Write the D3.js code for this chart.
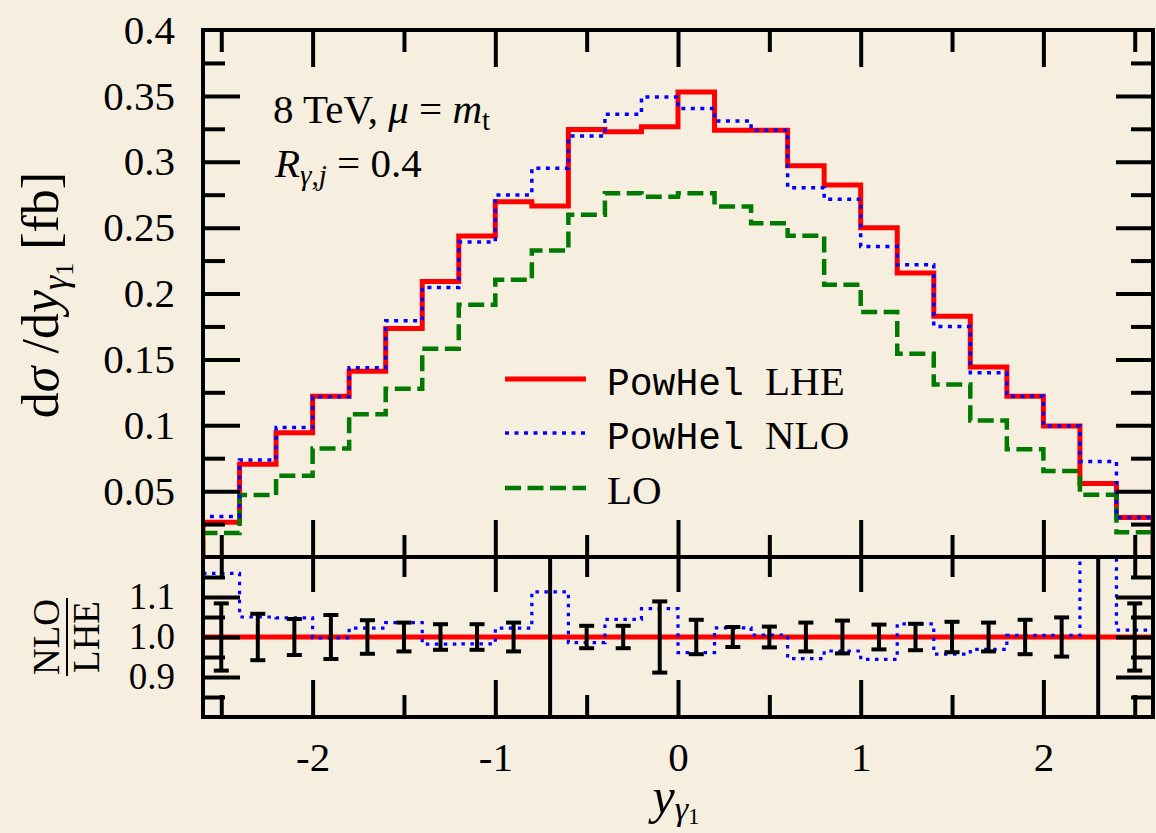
<!DOCTYPE html>
<html><head><meta charset="utf-8">
<script src="https://cdn.jsdelivr.net/npm/d3@7"></script>
<style>
html,body{margin:0;padding:0;background:#f6efe0;}
svg{display:block;}
</style></head><body>
<svg id="c" width="1156" height="833"></svg>
<script>
// ---------------- data ----------------
const binEdges = [-2.6,-2.4,-2.2,-2.0,-1.8,-1.6,-1.4,-1.2,-1.0,-0.8,-0.6,-0.4,-0.2,0.0,
                  0.2,0.4,0.6,0.8,1.0,1.2,1.4,1.6,1.8,2.0,2.2,2.4,2.6];
const binCenters = [-2.5,-2.3,-2.1,-1.9,-1.7,-1.5,-1.3,-1.1,-0.9,-0.7,-0.5,-0.3,-0.1,
                    0.1,0.3,0.5,0.7,0.9,1.1,1.3,1.5,1.7,1.9,2.1,2.3,2.5];
const lheValues = [0.0263,0.0704,0.0944,0.1221,0.141,0.1734,0.2092,0.2437,0.2697,0.2665,0.3245,0.3228,0.3265,
                   0.353,0.324,0.324,0.297,0.2824,0.250,0.2155,0.1827,0.1443,0.1221,0.0994,0.0558,0.030];
const nloValues = [0.0308,0.0737,0.0982,0.1217,0.1436,0.1794,0.2046,0.239,0.2748,0.295,0.3195,0.336,0.3492,
                   0.3404,0.331,0.324,0.2803,0.2716,0.2357,0.2218,0.175,0.1398,0.122,0.0994,0.0724,0.030];
const loValues  = [0.0182,0.047,0.0616,0.0823,0.1083,0.1277,0.158,0.1915,0.2104,0.2326,0.2597,0.2761,0.2735,
                   0.2761,0.266,0.2534,0.2438,0.2067,0.186,0.1542,0.131,0.1037,0.0818,0.0653,0.0472,0.0187];
const ratioValues = [1.159,1.05,1.048,0.998,1.022,1.036,0.982,0.983,1.022,1.113,0.986,1.044,1.071,
                     0.961,1.023,1.005,0.946,0.965,0.944,1.033,0.957,0.969,1.004,1.004,1.30,1.017];
const ratioErrors = [0.084,0.058,0.045,0.055,0.042,0.036,0.032,0.032,0.036,0.5,0.028,0.028,0.089,
                     0.043,0.025,0.026,0.036,0.041,0.031,0.033,0.038,0.036,0.043,0.049,0.5,0.084];
const xMajorTicks = [-2,-1,0,1,2];
const xMajorLabels = ["-2","-1","0","1","2"];
const xMinorTicks = [-2.5,-1.5,-0.5,0.5,1.5,2.5];
const yMajorTicks = [0.05,0.1,0.15,0.2,0.25,0.3,0.35,0.4];
const yMajorLabels = ["0.05","0.1","0.15","0.2","0.25","0.3","0.35","0.4"];
const yMinorTicks = [0.025,0.075,0.125,0.175,0.225,0.275,0.325,0.375];
const rMajorTicks = [0.9,1.0,1.1];
const rMajorLabels = ["0.9","1.0","1.1"];
const rMinorTicks = [0.85,0.95,1.05,1.15];
const legendEntries = [
  {mono:"PowHel", label:"LHE", color:"#ff0000", dash:null, width:5},
  {mono:"PowHel", label:"NLO", color:"#0000ff", dash:"4,5.5", width:3.5},
  {mono:"", label:"LO", color:"#007a00", dash:"16,6.5", width:4.5}
];

// ---------------- font detection ----------------
function detectFont(cands, fallback){
  const ctx = document.createElement("canvas").getContext("2d");
  const s = "mmmmmmmmmmlliiWWwwQq0123456789.35";
  for (const f of cands){
    for (const base of ["monospace","sans-serif","serif"]){
      ctx.font = "40px " + base; const w0 = ctx.measureText(s).width;
      ctx.font = '40px "' + f + '", ' + base; const w1 = ctx.measureText(s).width;
      if (Math.abs(w0-w1) > 0.5) return f;
    }
  }
  return fallback;
}
const serifFont = detectFont(["Liberation Serif","DejaVu Serif","Noto Serif","Tinos","Times New Roman"], "serif");
const monoFont = detectFont(["Liberation Mono","DejaVu Sans Mono","Noto Sans Mono","Cousine","Courier New"], "monospace");
const SERIF = '"' + serifFont + '", serif';
const MONO = '"' + monoFont + '", monospace';

// ---------------- layout ----------------
const xL=203, xR=1153, yTop=30, yMid=557, yBot=717;
const svg = d3.select("#c").style("font-family", SERIF);
svg.append("rect").attr("width",1156).attr("height",833).attr("fill","#f6efe0");

const x = d3.scaleLinear().domain([-2.6,2.6]).range([xL,xR]);
const y = d3.scaleLinear().domain([0,0.4]).range([yMid,yTop]);
const yr = d3.scaleLinear().domain([0.8,1.2]).range([yBot,yMid]);

const defs = svg.append("defs");
defs.append("clipPath").attr("id","clipMain").append("rect")
  .attr("x",xL).attr("y",yTop).attr("width",xR-xL).attr("height",yMid-yTop);
defs.append("clipPath").attr("id","clipRat").append("rect")
  .attr("x",xL).attr("y",yMid).attr("width",xR-xL).attr("height",yBot-yMid);

// ---------------- histograms ----------------
function histPts(vals){
  const pts=[[binEdges[0],0]];
  vals.forEach((v,i)=>pts.push([binEdges[i],v]));
  pts.push([binEdges[binEdges.length-1],vals[vals.length-1]]);
  pts.push([binEdges[binEdges.length-1],0]);
  return pts;
}
const lineMain = d3.line().x(d=>x(d[0])).y(d=>y(d[1])).curve(d3.curveStepAfter);
const gMain = svg.append("g").attr("clip-path","url(#clipMain)");
const series = [
  {vals:lheValues, e:legendEntries[0]},
  {vals:loValues,  e:legendEntries[2]},
  {vals:nloValues, e:legendEntries[1]}
];
series.forEach(s=>{
  gMain.append("path").attr("d",lineMain(histPts(s.vals)))
    .attr("fill","none").attr("stroke",s.e.color).attr("stroke-width",s.e.width)
    .attr("stroke-dasharray",s.e.dash).attr("stroke-linejoin","miter");
});

// ---------------- ratio panel ----------------
const gRat = svg.append("g").attr("clip-path","url(#clipRat)");
gRat.append("line").attr("x1",xL).attr("x2",xR).attr("y1",yr(1)).attr("y2",yr(1))
  .attr("stroke","#ff0000").attr("stroke-width",5);
const ratPts = ratioValues.map((v,i)=>[binEdges[i],v]);
ratPts.push([binEdges[binEdges.length-1],ratioValues[ratioValues.length-1]]);
const lineRat = d3.line().x(d=>x(d[0])).y(d=>yr(d[1])).curve(d3.curveStepAfter);
gRat.append("path").attr("d",lineRat(ratPts)).attr("fill","none")
  .attr("stroke","#0000ff").attr("stroke-width",3.2).attr("stroke-dasharray","3.5,5.5");
const eb = gRat.selectAll("g.eb").data(binCenters.map((c,i)=>({c,e:ratioErrors[i]})))
  .enter().append("g").attr("class","eb");
eb.append("line").attr("x1",d=>x(d.c)).attr("x2",d=>x(d.c))
  .attr("y1",d=>yr(1+d.e)).attr("y2",d=>yr(1-d.e)).attr("stroke","#000").attr("stroke-width",4);
[1,-1].forEach(sg=>{
  eb.append("line").attr("x1",d=>x(d.c)-7.5).attr("x2",d=>x(d.c)+7.5)
    .attr("y1",d=>yr(1+sg*d.e)).attr("y2",d=>yr(1+sg*d.e)).attr("stroke","#000").attr("stroke-width",4);
});

// ---------------- ticks ----------------
function ticks(axisFn, scale, vals, size, tx, ty){
  const g = svg.append("g").attr("transform",`translate(${tx},${ty})`)
    .call(axisFn(scale).tickValues(vals).tickSize(size).tickFormat(""));
  g.select(".domain").remove();
  g.selectAll(".tick line").attr("stroke","#000").attr("stroke-width",4);
  return g;
}
ticks(d3.axisBottom, x, xMajorTicks, 37, 0, yTop);
ticks(d3.axisBottom, x, xMinorTicks, 22, 0, yTop);
ticks(d3.axisTop, x, xMajorTicks, 37, 0, yMid);
ticks(d3.axisTop, x, xMinorTicks, 22, 0, yMid);
ticks(d3.axisBottom, x, xMajorTicks, 35, 0, yMid);
ticks(d3.axisBottom, x, xMinorTicks, 20, 0, yMid);
ticks(d3.axisTop, x, xMajorTicks, 37, 0, yBot);
ticks(d3.axisTop, x, xMinorTicks, 22, 0, yBot);
ticks(d3.axisRight, y, yMajorTicks.filter(v=>v<0.4), 37, xL, 0);
ticks(d3.axisRight, y, yMinorTicks, 22, xL, 0);
ticks(d3.axisLeft, y, yMajorTicks.filter(v=>v<0.4), 37, xR, 0);
ticks(d3.axisLeft, y, yMinorTicks, 22, xR, 0);
ticks(d3.axisRight, yr, rMajorTicks, 37, xL, 0);
ticks(d3.axisRight, yr, rMinorTicks, 22, xL, 0);
ticks(d3.axisLeft, yr, rMajorTicks, 37, xR, 0);
ticks(d3.axisLeft, yr, rMinorTicks, 22, xR, 0);

function labels(axisFn, scale, vals, labs, pad, tx, ty, fs){
  const g = svg.append("g").attr("transform",`translate(${tx},${ty})`)
    .call(axisFn(scale).tickValues(vals).tickSize(0).tickPadding(pad).tickFormat((d,i)=>labs[i]));
  g.select(".domain").remove();
  g.attr("font-family",null).attr("font-size",null);
  g.selectAll("text").style("font-family",SERIF).style("font-size",fs+"px").attr("fill","#000");
  return g;
}
labels(d3.axisLeft, y, yMajorTicks, yMajorLabels, 28, xL, 0, 41);
labels(d3.axisLeft, yr, rMajorTicks, rMajorLabels, 28, xL, 0, 37);
labels(d3.axisBottom, x, xMajorTicks, xMajorLabels, 25, 0, yBot, 41);

// ---------------- frames ----------------
svg.append("rect").attr("x",xL).attr("y",yTop).attr("width",xR-xL).attr("height",yMid-yTop)
  .attr("fill","none").attr("stroke","#000").attr("stroke-width",4);
svg.append("rect").attr("x",xL).attr("y",yMid).attr("width",xR-xL).attr("height",yBot-yMid)
  .attr("fill","none").attr("stroke","#000").attr("stroke-width",4);

// ---------------- annotations ----------------
const t1 = svg.append("text").attr("x",273).attr("y",123).style("font-size","41px");
t1.append("tspan").text("8 TeV, ");
t1.append("tspan").style("font-style","italic").text("μ");
t1.append("tspan").text(" = ");
t1.append("tspan").style("font-style","italic").text("m");
t1.append("tspan").style("font-size","29px").attr("dy",7).text("t");

const t2 = svg.append("text").attr("x",275).attr("y",177).style("font-size","41px");
t2.append("tspan").style("font-style","italic").text("R");
t2.append("tspan").style("font-size","29px").attr("dy",8).style("font-style","italic").text("γ");
t2.append("tspan").style("font-size","29px").text(",");
t2.append("tspan").style("font-size","29px").style("font-style","italic").text("j");
t2.append("tspan").attr("dy",-8).text(" = 0.4");

const legY = [379,433,488];
legendEntries.forEach((e,i)=>{
  svg.append("line").attr("x1",505).attr("x2",586).attr("y1",legY[i]).attr("y2",legY[i])
    .attr("stroke",e.color).attr("stroke-width",e.width).attr("stroke-dasharray",e.dash);
  if(e.mono){
    svg.append("text").attr("x",607).attr("y",legY[i]+16)
      .style("font-family",MONO).style("font-size","38px").text(e.mono);
    svg.append("text").attr("x",765).attr("y",legY[i]+16).style("font-size","41px").text(e.label);
  } else {
    svg.append("text").attr("x",607).attr("y",legY[i]+16).style("font-size","41px").text(e.label);
  }
});

const yl = svg.append("text").attr("transform","translate(58,295) rotate(-90)")
  .attr("text-anchor","middle").style("font-size","52px");
yl.append("tspan").text("d");
yl.append("tspan").style("font-style","italic").text("σ");
yl.append("tspan").text(" /d");
yl.append("tspan").style("font-style","italic").text("y");
yl.append("tspan").style("font-style","italic").style("font-size","36px").attr("dy",9).text("γ");
yl.append("tspan").style("font-size","26px").attr("dy",6).text("1");
yl.append("tspan").attr("dy",-15).text(" [fb]");

const xl = svg.append("text").attr("x",676).attr("y",813).attr("text-anchor","middle").style("font-size","50px");
xl.append("tspan").style("font-style","italic").text("y");
xl.append("tspan").style("font-style","italic").style("font-size","34px").attr("dy",7).text("γ");
xl.append("tspan").style("font-size","23px").attr("dy",4).text("1");

const rl = svg.append("g").attr("transform","translate(67,637) rotate(-90)");
rl.append("text").attr("x",0).attr("y",-8).attr("text-anchor","middle").style("font-size","37px").text("NLO");
rl.append("text").attr("x",0).attr("y",32).attr("text-anchor","middle").style("font-size","37px").text("LHE");
rl.append("line").attr("x1",-39).attr("x2",39).attr("y1",0).attr("y2",0).attr("stroke","#000").attr("stroke-width",2);
</script>
</body></html>
